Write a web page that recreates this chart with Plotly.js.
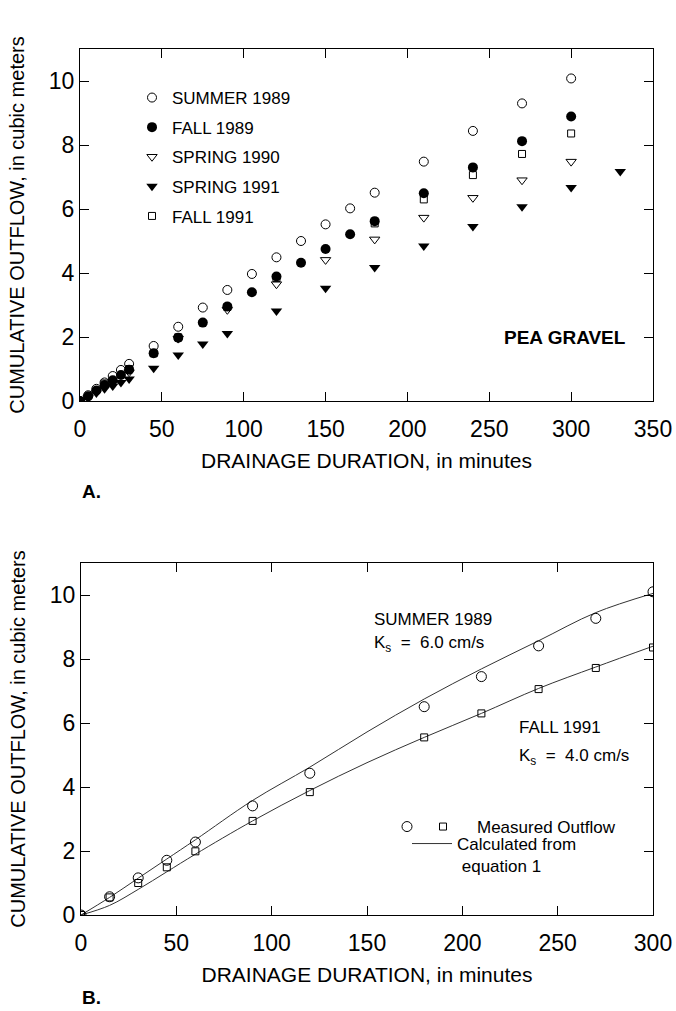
<!DOCTYPE html>
<html><head><meta charset="utf-8">
<script src="https://cdn.plot.ly/plotly-3.0.1.min.js"></script>
<style>html,body{margin:0;padding:0;background:#fff}#chart{width:676px;height:1011px}</style>
</head><body><div id="chart"></div>
<script>
// ---- Panel A data (minutes, cubic meters) ----
const tSummer89 = [0,5,10,15,20,25,30,45,60,75,90,105,120,135,150,165,180,210,240,270,300];
const summer89  = [0,0.18,0.38,0.58,0.78,0.97,1.16,1.72,2.32,2.92,3.47,3.97,4.49,5.0,5.52,6.02,6.51,7.48,8.44,9.3,10.08];
const tFall89   = [0,5,10,15,20,25,30,45,60,75,90,105,120,135,150,165,180,210,240,270,300];
const fall89    = [0,0.15,0.33,0.5,0.65,0.81,0.98,1.49,1.98,2.45,2.95,3.4,3.89,4.32,4.75,5.21,5.62,6.49,7.3,8.12,8.89];
const tSpring90 = [0,30,60,90,120,150,180,210,240,270,300];
const spring90  = [0,0.9,1.95,2.85,3.65,4.41,5.05,5.73,6.35,6.9,7.48];
const tSpring91 = [0,5,10,15,20,25,30,45,60,75,90,120,150,180,210,240,270,300,330];
const spring91  = [0,0.1,0.25,0.38,0.47,0.58,0.69,1.02,1.44,1.78,2.11,2.81,3.52,4.17,4.84,5.45,6.07,6.67,7.17];
const tFall91   = [0,15,30,45,60,90,120,180,210,240,270,300];
const fall91    = [0,0.55,1.0,1.49,1.99,2.94,3.84,5.55,6.3,7.06,7.72,8.36];

// ---- Panel B data ----
const tMeasB      = [0,15,30,45,60,90,120,180,210,240,270,300];
const summerMeasB = [0,0.57,1.16,1.71,2.28,3.41,4.43,6.51,7.45,8.41,9.27,10.1];
const fallMeasB   = [0,0.55,1.0,1.49,1.99,2.94,3.84,5.55,6.3,7.06,7.72,8.36];
const tCalc       = [0,15,30,45,60,90,120,150,180,210,240,270,300];
const summerCalc  = [0,0.55,1.15,1.75,2.35,3.58,4.62,5.72,6.75,7.69,8.57,9.45,10.05];
const fallCalc    = [0,0.3,0.8,1.35,1.9,2.94,3.89,4.76,5.55,6.3,7.08,7.75,8.4];

const legendNames = ['SUMMER 1989','FALL 1989','SPRING 1990','SPRING 1991','FALL 1991'];
const xTitle = 'DRAINAGE DURATION, in minutes';
const yTitle = 'CUMULATIVE OUTFLOW, in cubic meters';

const FONT = 'Liberation Sans, Arial, Helvetica, sans-serif';
const W = 676, H = 1011;

const traces = [
  {x:tSummer89, y:summer89, name:legendNames[0], legendgroup:'a', mode:'markers', type:'scatter', xaxis:'x', yaxis:'y',
   marker:{symbol:'circle-open', size:9, color:'#000', line:{width:1}}},
  {x:tFall89, y:fall89, name:legendNames[1], legendgroup:'b', mode:'markers', type:'scatter', xaxis:'x', yaxis:'y',
   marker:{symbol:'circle', size:10, color:'#000'}},
  {x:tSpring90, y:spring90, name:legendNames[2], legendgroup:'c', mode:'markers', type:'scatter', xaxis:'x', yaxis:'y',
   marker:{symbol:'triangle-down-open', size:9, color:'#000', line:{width:1}}},
  {x:tSpring91, y:spring91, name:legendNames[3], legendgroup:'d', mode:'markers', type:'scatter', xaxis:'x', yaxis:'y',
   marker:{symbol:'triangle-down', size:10, color:'#000'}},
  {x:tFall91, y:fall91, name:legendNames[4], legendgroup:'e', mode:'markers', type:'scatter', xaxis:'x', yaxis:'y',
   marker:{symbol:'square-open', size:7, color:'#000', line:{width:1}}},

  {x:tCalc, y:summerCalc, name:'Calculated from<br>\u00a0equation 1', mode:'lines', type:'scatter', xaxis:'x2', yaxis:'y2',
   line:{color:'#333', width:1, shape:'spline'}, legend:'legend4'},
  {x:tCalc, y:fallCalc, name:'calc fall', showlegend:false, mode:'lines', type:'scatter', xaxis:'x2', yaxis:'y2',
   line:{color:'#333', width:1, shape:'spline'}, legend:'legend4'},
  {x:tMeasB, y:summerMeasB, name:'', mode:'markers', type:'scatter', xaxis:'x2', yaxis:'y2', legend:'legend2',
   marker:{symbol:'circle-open', size:10, color:'#000', line:{width:1}}},
  {x:tMeasB, y:fallMeasB, name:'Measured Outflow', mode:'markers', type:'scatter', xaxis:'x2', yaxis:'y2', legend:'legend3',
   marker:{symbol:'square-open', size:7, color:'#000', line:{width:1}}}
];

const axisCommon = {
  showline:true, linecolor:'#000', linewidth:1, mirror:'ticks',
  ticks:'inside', ticklen:9, tickcolor:'#000', tickwidth:1,
  showgrid:false, zeroline:false,
  tickfont:{family:FONT, size:23, color:'#000'}
};
const xt = {text:xTitle, standoff:12, font:{family:FONT, size:21, color:'#000'}};
const yt = {text:yTitle, standoff:18, font:{family:FONT, size:20, color:'#000'}};

const legFont = {family:FONT, size:17, color:'#000'};
const annFont = {family:FONT, size:17, color:'#000'};

const layout = {
  width:W, height:H, margin:{l:0, r:0, t:0, b:0},
  paper_bgcolor:'#fff', plot_bgcolor:'#fff',
  font:{family:FONT, color:'#000'},
  xaxis:Object.assign({}, axisCommon, {domain:[80/W, 653/W], range:[0,350], dtick:50, tick0:0, anchor:'y', ticklabelstandoff:7, title:xt}),
  yaxis:Object.assign({}, axisCommon, {domain:[1-401/H, 1-49/H], range:[0,11], dtick:2, tick0:0, anchor:'x', title:yt}),
  xaxis2:Object.assign({}, axisCommon, {domain:[81/W, 653/W], range:[0,300], dtick:50, tick0:0, anchor:'y2', ticklabelstandoff:7, title:xt}),
  yaxis2:Object.assign({}, axisCommon, {domain:[1-915/H, 1-563/H], range:[0,11], dtick:2, tick0:0, anchor:'x2', title:yt}),
  showlegend:true,
  legend:{x:132/W, y:1-80/H, xanchor:'left', yanchor:'top', bgcolor:'rgba(0,0,0,0)', borderwidth:0,
    traceorder:'grouped', tracegroupgap:4.5, font:legFont},
  legend2:{x:387/W, y:1-827/H, xanchor:'left', yanchor:'middle', bgcolor:'rgba(0,0,0,0)', borderwidth:0, font:legFont},
  legend3:{x:409/W, y:1-827/H, xanchor:'left', yanchor:'middle', itemwidth:58, bgcolor:'rgba(0,0,0,0)', borderwidth:0, font:legFont},
  legend4:{x:407/W, y:1-826/H, xanchor:'left', yanchor:'top', itemwidth:40, valign:'top', bgcolor:'rgba(0,0,0,0)', borderwidth:0, font:legFont},
  annotations:[
    {xref:'x', yref:'y', x:296, y:2.0, text:'<b>PEA GRAVEL</b>', showarrow:false, font:{family:FONT, size:19, color:'#000'}},
    {xref:'paper', yref:'paper', x:80/W, y:1-492/H, xanchor:'left', yanchor:'middle', text:'<b>A.</b>', showarrow:false, font:{family:FONT, size:19, color:'#000'}},
    {xref:'paper', yref:'paper', x:80/W, y:1-997/H, xanchor:'left', yanchor:'middle', text:'<b>B.</b>', showarrow:false, font:{family:FONT, size:19, color:'#000'}},
    {xref:'x2', yref:'y2', x:152.6, y:9.22, xanchor:'left', text:'SUMMER 1989', showarrow:false, font:annFont},
    {xref:'x2', yref:'y2', x:152.6, y:8.47, xanchor:'left', text:'K<sub>s</sub>  =  6.0 cm/s', showarrow:false, font:annFont},
    {xref:'x2', yref:'y2', x:228.6, y:5.86, xanchor:'left', text:'FALL 1991', showarrow:false, font:annFont},
    {xref:'x2', yref:'y2', x:228.6, y:4.95, xanchor:'left', text:'K<sub>s</sub>  =  4.0 cm/s', showarrow:false, font:annFont}
  ]
};

Plotly.newPlot('chart', traces, layout, {displayModeBar:false, staticPlot:true});
</script></body></html>
